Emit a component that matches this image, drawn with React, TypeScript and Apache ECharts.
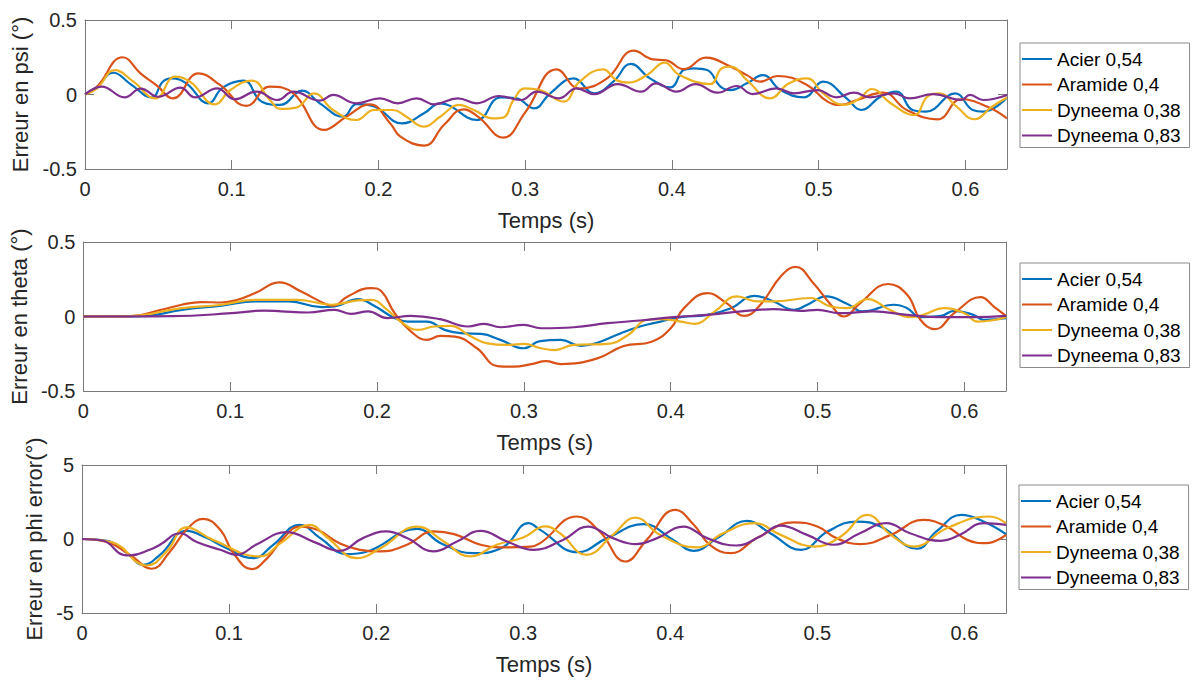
import React, { useEffect, useRef } from "react";
import * as echarts from "echarts";

const SERIES_NAMES = ["Acier 0,54", "Aramide 0,4", "Dyneema 0,38", "Dyneema 0,83"];
const COLORS = ["#0072BD", "#D95319", "#EDB120", "#7E2F8E"];
const X_MAX = 0.6283;
const X_INTERVAL = 0.1;
const X_LABEL = "Temps (s)";
const Y_NAMES = ["Erreur en psi (°)", "Erreur en theta (°)", "Erreur en phi error(°)"];
const Y_RANGES = [
  [-0.5, 0.5, 0.5],
  [-0.5, 0.5, 0.5],
  [-5, 5, 5],
];

// ---- psi error ----
const psiAcier = [
  [0, 0], [0.008, 0.05], [0.0193, 0.146], [0.031, 0.07], [0.0455, -0.02], [0.053, 0.086], [0.059, 0.108],
  [0.069, 0.075], [0.084, -0.059], [0.094, 0.048], [0.108, 0.093], [0.1205, -0.048], [0.133, -0.07],
  [0.148, 0.026], [0.16, -0.06], [0.176, -0.149], [0.185, -0.064], [0.197, -0.08], [0.216, -0.194],
  [0.231, -0.126], [0.242, -0.06], [0.267, -0.171], [0.283, -0.02], [0.294, -0.026], [0.306, -0.093],
  [0.317, 0.008], [0.333, 0.108], [0.347, 0.008], [0.36, 0.086], [0.372, 0.205], [0.385, 0.108],
  [0.399, 0.048], [0.408, 0.164], [0.415, 0.176], [0.424, 0.164], [0.433, 0.053], [0.44, 0.03],
  [0.451, 0.075], [0.462, 0.13], [0.474, 0.03], [0.49, -0.019], [0.503, 0.086], [0.519, -0.026],
  [0.529, -0.104], [0.542, -0.015], [0.553, 0.019], [0.564, -0.104], [0.573, -0.115], [0.593, 0.008],
  [0.605, -0.104], [0.612, -0.115], [0.6283, -0.02],
];
const psiAramide = [
  [0, 0], [0.008, 0.05], [0.0257, 0.25], [0.038, 0.14], [0.049, 0.06], [0.06, -0.026], [0.0772, 0.142],
  [0.092, 0.064], [0.11, -0.077], [0.126, 0.053], [0.142, 0.008], [0.163, -0.238], [0.178, -0.15],
  [0.194, -0.066], [0.208, -0.194], [0.215, -0.283], [0.231, -0.343], [0.245, -0.2], [0.258, -0.1],
  [0.268, -0.15], [0.285, -0.29], [0.3, -0.12], [0.3215, 0.169], [0.337, 0.04], [0.356, 0.11],
  [0.374, 0.294], [0.387, 0.236], [0.396, 0.23], [0.408, 0.17], [0.423, 0.247], [0.44, 0.187],
  [0.451, 0.13], [0.46, 0.086], [0.472, 0.124], [0.492, 0.064], [0.506, -0.048], [0.515, -0.07],
  [0.526, -0.037], [0.544, 0.012], [0.56, -0.104], [0.581, -0.167], [0.597, -0.032], [0.615, -0.082],
  [0.6283, -0.16],
];
const psiDyneema38 = [
  [0, 0], [0.008, 0.04], [0.0205, 0.164], [0.033, 0.086], [0.048, -0.026], [0.0614, 0.12], [0.0716, 0.086],
  [0.0886, -0.066], [0.099, 0.03], [0.1136, 0.093], [0.126, -0.037], [0.133, -0.097], [0.144, -0.088],
  [0.156, 0.008], [0.169, -0.104], [0.185, -0.171], [0.197, -0.104], [0.21, -0.104], [0.219, -0.149],
  [0.231, -0.216], [0.242, -0.149], [0.255, -0.07], [0.265, -0.104], [0.278, -0.16], [0.285, -0.155],
  [0.292, -0.037], [0.3, 0.041], [0.31, 0.03], [0.326, -0.048], [0.337, 0.086], [0.353, 0.169],
  [0.362, 0.097], [0.37, 0.08], [0.383, 0.131], [0.395, 0.214], [0.405, 0.131], [0.426, 0.07],
  [0.434, 0.176], [0.44, 0.187], [0.451, 0.097], [0.467, -0.026], [0.479, 0.07], [0.492, 0.108],
  [0.503, 0.008], [0.517, -0.07], [0.528, -0.026], [0.536, 0.037], [0.549, -0.059], [0.565, -0.138],
  [0.574, -0.015], [0.582, 0.008], [0.594, -0.082], [0.606, -0.166], [0.618, -0.082], [0.6283, -0.02],
];
const psiDyneema83 = [
  [0, 0], [0.0114, 0.053], [0.027, -0.019], [0.038, 0.04], [0.05, -0.015], [0.065, 0.046], [0.075, -0.019],
  [0.09, 0.041], [0.102, -0.032], [0.117, 0.019], [0.131, -0.037], [0.142, 0.019], [0.16, -0.041],
  [0.169, -0.003], [0.185, -0.059], [0.201, -0.026], [0.213, -0.059], [0.226, -0.026], [0.238, -0.066],
  [0.254, -0.026], [0.267, -0.059], [0.282, -0.01], [0.297, -0.037], [0.308, 0.019], [0.323, -0.026],
  [0.335, 0.041], [0.347, 0.003], [0.363, 0.07], [0.379, 0.019], [0.389, 0.075], [0.403, 0.019],
  [0.416, 0.07], [0.431, 0.012], [0.444, 0.057], [0.455, 0.003], [0.471, 0.041], [0.483, 0.008],
  [0.499, 0.03], [0.512, -0.019], [0.524, 0.012], [0.535, -0.019], [0.551, 0.008], [0.562, -0.026],
  [0.578, 0.003], [0.597, -0.037], [0.603, -0.003], [0.612, -0.037], [0.6283, -0.003],
];

// ---- theta error ----
const thetaAcier = [
  [0, 0], [0.04, 0.002], [0.067, 0.045], [0.094, 0.072], [0.117, 0.101], [0.14, 0.101], [0.162, 0.063],
  [0.171, 0.067], [0.187, 0.117], [0.198, 0.072], [0.212, -0.011], [0.221, -0.034], [0.234, -0.034],
  [0.246, -0.09], [0.257, -0.112], [0.271, -0.117], [0.284, -0.157], [0.3, -0.213], [0.311, -0.165],
  [0.325, -0.157], [0.339, -0.198], [0.352, -0.169], [0.366, -0.112], [0.379, -0.067], [0.393, -0.034],
  [0.407, -0.004], [0.425, 0.011], [0.441, 0.056], [0.457, 0.139], [0.47, 0.101], [0.484, 0.045],
  [0.493, 0.079], [0.506, 0.135], [0.52, 0.085], [0.531, 0.034], [0.552, 0.079], [0.561, 0.056],
  [0.57, -0.004], [0.584, 0.004], [0.593, 0.038], [0.606, 0.011], [0.613, -0.022], [0.6283, -0.011],
];
const thetaAramide = [
  [0, 0], [0.033, 0.003], [0.053, 0.045], [0.067, 0.079], [0.08, 0.097], [0.094, 0.094], [0.105, 0.112],
  [0.117, 0.157], [0.1336, 0.229], [0.148, 0.169], [0.166, 0.079], [0.17, 0.072], [0.18, 0.135],
  [0.196, 0.191], [0.203, 0.169], [0.212, 0.022], [0.223, -0.1], [0.234, -0.157], [0.243, -0.13],
  [0.253, -0.135], [0.268, -0.213], [0.282, -0.333], [0.293, -0.337], [0.305, -0.32], [0.315, -0.3],
  [0.325, -0.319], [0.35, -0.281], [0.368, -0.198], [0.387, -0.169], [0.4, -0.079], [0.409, 0.056],
  [0.425, 0.157], [0.438, 0.09], [0.45, 0.004], [0.461, 0.079], [0.475, 0.27], [0.485, 0.333],
  [0.497, 0.225], [0.509, 0.079], [0.518, 0], [0.529, 0.09], [0.548, 0.218], [0.561, 0.146],
  [0.57, -0.022], [0.58, -0.085], [0.593, 0.022], [0.611, 0.13], [0.62, 0.067], [0.6283, 0.004],
];
const thetaDyneema38 = [
  [0, 0], [0.03, 0.002], [0.067, 0.056], [0.094, 0.079], [0.117, 0.112], [0.146, 0.112], [0.169, 0.079],
  [0.187, 0.108], [0.196, 0.112], [0.207, 0.045], [0.216, -0.034], [0.228, -0.09], [0.239, -0.067],
  [0.25, -0.063], [0.264, -0.135], [0.275, -0.18], [0.289, -0.191], [0.3, -0.184], [0.3116, -0.213],
  [0.321, -0.225], [0.334, -0.191], [0.357, -0.184], [0.371, -0.124], [0.384, -0.022], [0.393, -0.018],
  [0.407, -0.034], [0.416, -0.049], [0.43, 0.034], [0.445, 0.135], [0.459, 0.101], [0.47, 0.101],
  [0.495, 0.124], [0.509, 0.067], [0.52, 0.056], [0.534, 0.117], [0.549, 0.045], [0.563, -0.004],
  [0.572, 0.011], [0.586, 0.056], [0.6, 0.022], [0.609, -0.034], [0.618, -0.027], [0.6283, -0.004],
];
const thetaDyneema83 = [
  [0, 0], [0.06, 0.002], [0.101, 0.022], [0.123, 0.04], [0.135, 0.034], [0.153, 0.027], [0.171, 0.045],
  [0.182, 0.018], [0.194, 0.034], [0.207, -0.011], [0.223, 0.004], [0.243, -0.018], [0.262, -0.067],
  [0.273, -0.049], [0.284, -0.072], [0.3, -0.056], [0.3116, -0.079], [0.334, -0.072], [0.357, -0.045],
  [0.379, -0.027], [0.402, -0.004], [0.425, 0.011], [0.448, 0.034], [0.47, 0.049], [0.488, 0.038],
  [0.5, 0.045], [0.515, 0.022], [0.538, 0.034], [0.561, 0.011], [0.584, -0.004], [0.606, -0.004],
  [0.6283, 0.004],
];

// ---- phi error ----
const phiAcier = [
  [0, 0], [0.017, -0.12], [0.03, -0.9], [0.0417, -1.74], [0.053, -1.07], [0.071, 0.55], [0.085, 0.06],
  [0.096, -0.51], [0.1166, -1.29], [0.13, -0.39], [0.148, 0.96], [0.162, 0.06], [0.18, -1.02],
  [0.194, -0.84], [0.228, 0.69], [0.244, -0.28], [0.266, -0.96], [0.287, -0.51], [0.3036, 1.07],
  [0.3116, 0.62], [0.337, -0.89], [0.357, 0.06], [0.382, 1.0], [0.402, -0.06], [0.416, -0.8],
  [0.432, 0.06], [0.4522, 1.22], [0.468, 0.39], [0.489, -0.73], [0.507, 0.51], [0.527, 1.18],
  [0.543, 0.84], [0.568, -0.66], [0.581, 0.51], [0.598, 1.63], [0.613, 1.18], [0.6283, 0.33],
];
const phiAramide = [
  [0, 0], [0.0168, -0.2], [0.0327, -1.07], [0.0474, -2.01], [0.0599, -0.84], [0.071, 0.62], [0.0825, 1.36],
  [0.094, 0.62], [0.103, -0.96], [0.1154, -2.03], [0.126, -1.29], [0.137, 0.06], [0.148, 0.84],
  [0.16, 0.62], [0.175, -0.28], [0.189, -0.73], [0.203, -0.84], [0.221, -0.39], [0.239, 0.51],
  [0.253, 0.33], [0.271, -0.39], [0.284, -0.57], [0.305, -0.51], [0.3116, -0.28], [0.3365, 1.52],
  [0.352, 0.51], [0.3694, -1.52], [0.384, -0.06], [0.4034, 1.97], [0.416, 0.96], [0.427, -0.39],
  [0.441, -0.96], [0.459, 0.06], [0.484, 1.13], [0.5, 0.84], [0.513, 0.06], [0.529, -0.35],
  [0.55, 0.28], [0.572, 1.29], [0.588, 0.84], [0.602, -0.06], [0.615, -0.28], [0.6283, 0.28],
];
const phiDyneema38 = [
  [0, 0], [0.02, -0.2], [0.0441, -1.79], [0.0576, -0.84], [0.071, 0.78], [0.089, -0.06], [0.1211, -1.18],
  [0.135, -0.28], [0.155, 0.96], [0.166, 0.17], [0.187, -1.29], [0.203, -0.62], [0.228, 0.84],
  [0.246, -0.17], [0.264, -1.18], [0.282, -0.39], [0.3, 0.1], [0.315, 0.85], [0.325, 0.39],
  [0.343, -1.07], [0.361, 0.28], [0.3763, 1.45], [0.393, 0.28], [0.418, -0.57], [0.436, 0.39],
  [0.457, 1.07], [0.475, 0.28], [0.498, -0.51], [0.516, 0.17], [0.534, 1.63], [0.55, 0.28],
  [0.566, -0.51], [0.588, 0.73], [0.617, 1.52], [0.6283, 1.07],
];
const phiDyneema83 = [
  [0, 0], [0.0145, -0.12], [0.0281, -1.07], [0.033, -1.11], [0.046, -0.73], [0.053, -0.39], [0.0667, 0.39],
  [0.078, -0.21], [0.094, -0.73], [0.105, -1.07], [0.119, -0.35], [0.139, 0.46], [0.158, -0.21],
  [0.175, -0.8], [0.191, 0.06], [0.207, 0.51], [0.221, 0.06], [0.239, -0.84], [0.255, -0.17],
  [0.271, 0.55], [0.289, -0.17], [0.307, -0.73], [0.327, -0.06], [0.344, 0.84], [0.361, 0.06],
  [0.377, -0.35], [0.391, 0.06], [0.409, 0.84], [0.425, 0.06], [0.445, -0.44], [0.461, 0.17],
  [0.475, 0.91], [0.493, 0.28], [0.511, -0.39], [0.529, 0.39], [0.547, 1.07], [0.563, 0.39],
  [0.584, -0.12], [0.597, 0.28], [0.613, 1.07], [0.6283, 0.96],
];

const PANELS = [
  [psiAcier, psiAramide, psiDyneema38, psiDyneema83],
  [thetaAcier, thetaAramide, thetaDyneema38, thetaDyneema83],
  [phiAcier, phiAramide, phiDyneema38, phiDyneema83],
];

// layout (pixels)
const GRIDS = [
  { left: 85, top: 20, width: 922, height: 149 },
  { left: 82, top: 242, width: 924, height: 149 },
  { left: 82, top: 465, width: 924, height: 148 },
];
const Y_NAME_GAPS = [54, 51, 32];
const LEGEND_POS = [
  { left: 1020, top: 43 },
  { left: 1020, top: 263 },
  { left: 1019, top: 485 },
];

const FONT = "'Liberation Sans', Arial, Helvetica, sans-serif";
const AX = "#7a7a7a";
const TXT = "#262626";

function buildOption() {
  const xAxis: any[] = [];
  const yAxis: any[] = [];
  const series: any[] = [];
  const legend: any[] = [];
  const tick = { inside: true, length: 9, lineStyle: { color: AX, width: 1 } };
  const line = { show: true, onZero: false, lineStyle: { color: AX, width: 1 } };

  GRIDS.forEach((_, i) => {
    xAxis.push({
      type: "value", gridIndex: i, position: "bottom",
      min: 0, max: X_MAX, interval: X_INTERVAL,
      name: X_LABEL, nameLocation: "middle", nameGap: 40,
      nameTextStyle: { fontSize: 22, color: TXT, fontFamily: FONT },
      axisLine: line, axisTick: tick,
      axisLabel: {
        fontSize: 20, color: TXT, fontFamily: FONT, margin: 10, showMaxLabel: false,
        formatter: (v: number) => String(Number(v.toFixed(1))),
      },
      splitLine: { show: false },
    });
  });
  GRIDS.forEach((_, i) => {
    xAxis.push({
      type: "value", gridIndex: i, position: "top",
      min: 0, max: X_MAX, interval: X_INTERVAL,
      axisLine: line, axisTick: tick, axisLabel: { show: false },
      splitLine: { show: false },
    });
  });
  GRIDS.forEach((_, i) => {
    const [mn, mx, iv] = Y_RANGES[i];
    yAxis.push({
      type: "value", gridIndex: i, position: "left",
      min: mn, max: mx, interval: iv,
      name: Y_NAMES[i], nameLocation: "middle", nameRotate: 90, nameGap: Y_NAME_GAPS[i],
      nameTextStyle: { fontSize: 22, color: TXT, fontFamily: FONT },
      axisLine: line, axisTick: tick,
      axisLabel: { fontSize: 20, color: TXT, fontFamily: FONT, margin: 8 },
      splitLine: { show: false },
    });
  });
  GRIDS.forEach((_, i) => {
    const [mn, mx, iv] = Y_RANGES[i];
    yAxis.push({
      type: "value", gridIndex: i, position: "right",
      min: mn, max: mx, interval: iv,
      axisLine: line, axisTick: tick, axisLabel: { show: false },
      splitLine: { show: false },
    });
  });

  PANELS.forEach((panel, i) => {
    panel.forEach((data, j) => {
      series.push({
        type: "line", name: SERIES_NAMES[j],
        xAxisIndex: i, yAxisIndex: i,
        data, smooth: 0.45, symbol: "none", showSymbol: false,
        lineStyle: { width: 2.2, color: COLORS[j] },
        itemStyle: { color: COLORS[j] },
      });
    });
    legend.push({
      orient: "vertical", left: LEGEND_POS[i].left, top: LEGEND_POS[i].top,
      data: SERIES_NAMES, icon: "rect", itemWidth: 30, itemHeight: 2, itemGap: 5.5,
      padding: [6, 9, 2, 2], borderColor: "#8a8a8a", borderWidth: 1, backgroundColor: "#fff",
      selectedMode: false,
      textStyle: { fontSize: 19, color: "#000", fontFamily: FONT, lineHeight: 20 },
    });
  });

  return {
    animation: false,
    backgroundColor: "#fff",
    grid: GRIDS.map((g) => ({ ...g, containLabel: false })),
    xAxis, yAxis, series, legend,
  };
}

export default function App() {
  const ref = useRef<HTMLDivElement>(null);
  useEffect(() => {
    if (!ref.current) return;
    const chart = echarts.init(ref.current, null, { renderer: "svg" });
    chart.setOption(buildOption() as any);
    return () => chart.dispose();
  }, []);
  return (
    <div
      ref={ref}
      style={{ position: "absolute", left: 0, top: 0, width: 1193, height: 684, background: "#fff" }}
    />
  );
}
